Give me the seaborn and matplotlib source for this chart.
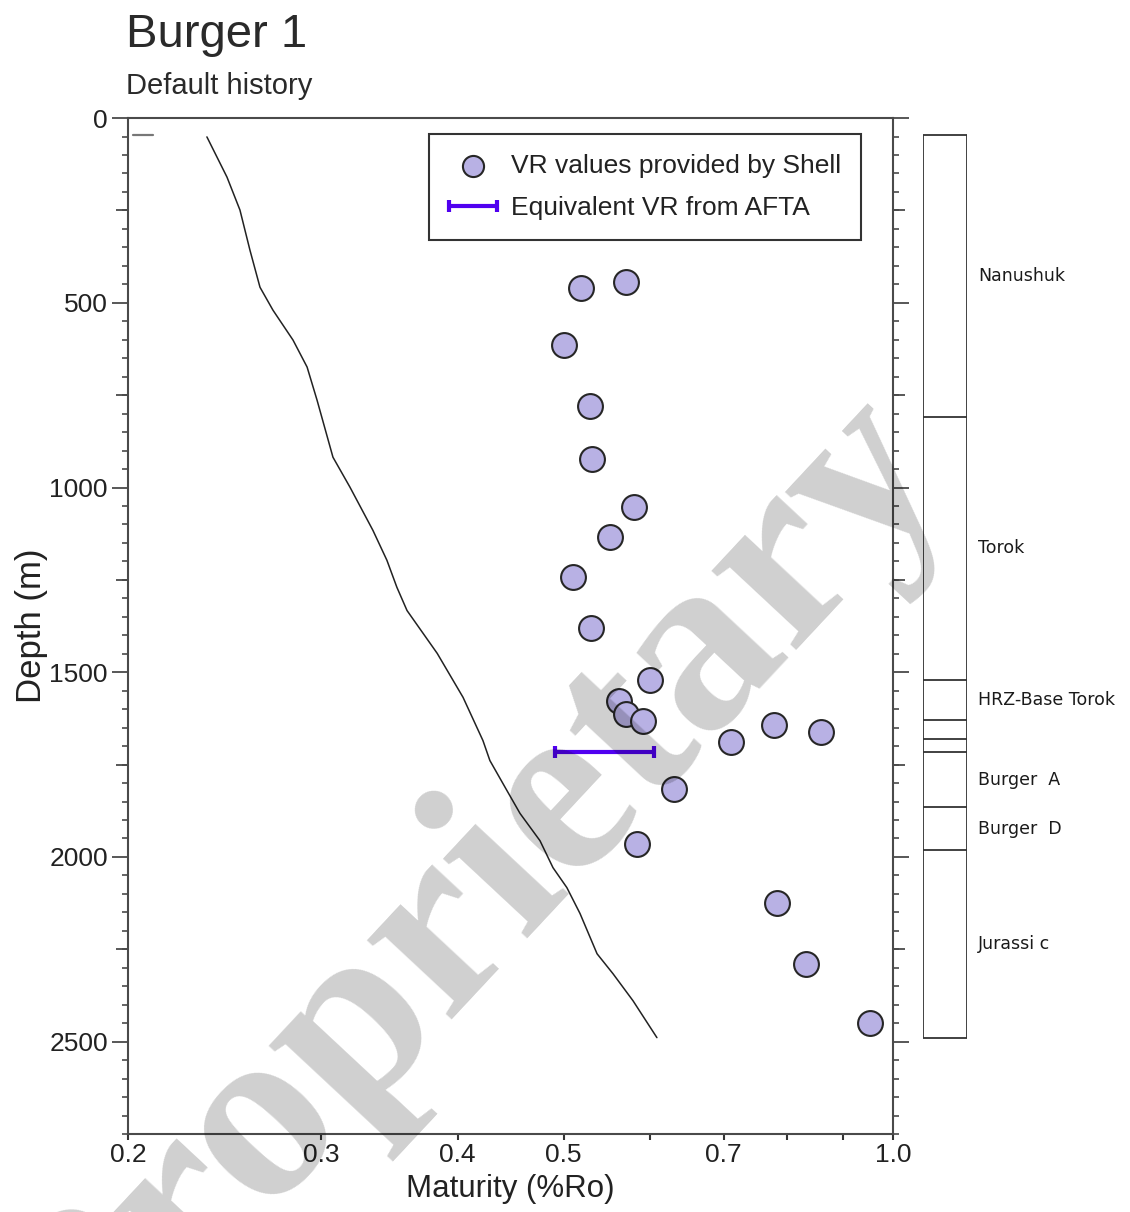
import numpy as np
import matplotlib
matplotlib.use("Agg")
import matplotlib.pyplot as plt
import seaborn as sns
from matplotlib.ticker import FixedLocator, MultipleLocator, NullLocator
from matplotlib.container import ErrorbarContainer
from matplotlib.legend_handler import HandlerErrorbar


# ======================
# Data
# ======================

# modelled maturity profile
model_ro = [0.2361, 0.2463, 0.2531, 0.2585, 0.2640, 0.2713, 0.2830, 0.2915,
            0.2977, 0.3078, 0.3190, 0.3348, 0.3448, 0.3521, 0.3597, 0.3833,
            0.4047, 0.4220, 0.4282, 0.4438, 0.4562, 0.4758, 0.4890, 0.5035,
            0.5176, 0.5365, 0.5548, 0.5786, 0.6085]
model_depth = [51, 160, 249, 358, 458, 520, 601, 674, 764, 918, 999, 1116,
               1197, 1270, 1333, 1449, 1568, 1685, 1739, 1820, 1882, 1956,
               2029, 2083, 2153, 2262, 2316, 2389, 2489]

# measured VR
vr_ro = [0.570, 0.519, 0.500, 0.529, 0.531, 0.580, 0.551, 0.510, 0.530,
         0.600, 0.562, 0.570, 0.591, 0.711, 0.779, 0.859, 0.631, 0.584,
         0.783, 0.833, 0.953]
vr_depth = [444, 460, 615, 780, 924, 1054, 1135, 1243, 1381, 1522, 1579,
            1612, 1633, 1690, 1644, 1663, 1817, 1966, 2124, 2289, 2449]

# AFTA equivalent VR range
afta_depth = 1715
afta_ro_min = 0.491
afta_ro_max = 0.605

# surface marker
surface_ro = [0.202, 0.211]
surface_depth = 46

# stratigraphy
formation_tops = [46, 810, 1520, 1628, 1682, 1715, 1866, 1980]
formation_base = 2489
formation_names = ["Nanushuk", "Torok", "HRZ-Base Torok", "", "",
                   "Burger  A", "Burger  D", "Jurassi c"]

x_ticks = [0.2, 0.3, 0.4, 0.5, 0.6, 0.7, 0.8, 0.9, 1.0]
x_tick_labels = ["0.2", "0.3", "0.4", "0.5", "", "0.7", "", "", "1.0"]


# ======================
# Style
# ======================

sns.set_theme(style="ticks")
plt.rcParams["font.family"] = ["Liberation Sans", "DejaVu Sans"]

spine_col = "#4a4a4a"
text_col = "#222222"

fig = plt.figure(figsize=(11.3, 12.12), dpi=100)

ax = fig.add_axes([0.1133, 0.0643, 0.6770, 0.8383])
ax_col = fig.add_axes([0.8168, 0.0643, 0.0389, 0.8383])


# ======================
# Main panel
# ======================

sns.lineplot(
    x=model_ro,
    y=model_depth,
    sort=False,
    estimator=None,
    color="#222222",
    linewidth=1.1,
    ax=ax
)

ax.plot(surface_ro, [surface_depth, surface_depth],
        color="#777777", linewidth=1.6)

afta_mid = (afta_ro_min + afta_ro_max) / 2
ax.errorbar(
    afta_mid,
    afta_depth,
    xerr=[[afta_mid - afta_ro_min], [afta_ro_max - afta_mid]],
    fmt="none",
    ecolor="#5000f0",
    elinewidth=3,
    capsize=4,
    capthick=3,
    label="Equivalent VR from AFTA",
    zorder=4
)

sns.scatterplot(
    x=vr_ro,
    y=vr_depth,
    s=320,
    color="#b8b1e4",
    edgecolor="#262626",
    linewidth=1.5,
    label="VR values provided by Shell",
    ax=ax,
    zorder=5
)

ax.set_xscale("log")
ax.set_xlim(0.2, 1.0)
ax.set_ylim(2750, 0)

ax.xaxis.set_major_locator(FixedLocator(x_ticks))
ax.set_xticklabels(x_tick_labels)
ax.xaxis.set_minor_locator(NullLocator())

ax.yaxis.set_major_locator(MultipleLocator(500))
ax.yaxis.set_minor_locator(MultipleLocator(50))

for side in ["left", "right", "top", "bottom"]:
    ax.spines[side].set_visible(True)
    ax.spines[side].set_color(spine_col)
    ax.spines[side].set_linewidth(1.5)

ax.tick_params(axis="y", which="major", left=True, right=True,
               length=11.5, width=1.3, color=spine_col,
               labelsize=19, labelcolor=text_col, pad=3)
ax.tick_params(axis="y", which="minor", left=True, right=True,
               length=4.3, width=1.2, color=spine_col)
ax.tick_params(axis="x", which="major", bottom=True, top=False,
               length=4.5, width=1.5, color="#333333",
               labelsize=19, labelcolor=text_col, pad=2)

# intermediate 250 m ticks
for loc in ["left", "right"]:
    sec = ax.secondary_yaxis(loc)
    sec.yaxis.set_major_locator(FixedLocator(np.arange(250, 2750, 500)))
    sec.yaxis.set_minor_locator(NullLocator())
    sec.tick_params(length=8.3, width=1.3, color=spine_col,
                    labelleft=False, labelright=False)
    for s in sec.spines.values():
        s.set_visible(False)

ax.set_xlabel("Maturity (%Ro)", fontsize=22.5, color=text_col, labelpad=5)
ax.set_ylabel("Depth (m)", fontsize=25, color=text_col, labelpad=1)

handles, labels = ax.get_legend_handles_labels()
leg = ax.legend(
    handles,
    labels,
    loc="upper center",
    bbox_to_anchor=(0.676, 0.984),
    fontsize=19,
    frameon=True,
    fancybox=False,
    framealpha=1,
    edgecolor="#333333",
    borderpad=0.75,
    handlelength=1.8,
    handletextpad=0.55,
    labelspacing=0.68,
    markerscale=0.85,
    borderaxespad=0,
    handler_map={ErrorbarContainer: HandlerErrorbar(xerr_size=0.9)}
)
leg.get_frame().set_linewidth(1.5)
for t in leg.get_texts():
    t.set_color(text_col)


# ======================
# Stratigraphic column
# ======================

ax_col.set_xlim(0, 1)
ax_col.set_ylim(2750, 0)
ax_col.axis("off")

ax_col.vlines([0, 1], formation_tops[0], formation_base,
              color="#333333", linewidth=1.3)
ax_col.hlines(formation_tops + [formation_base], 0, 1,
              color="#333333", linewidth=1.3)

bases = formation_tops[1:] + [formation_base]
for name, top, base in zip(formation_names, formation_tops, bases):
    if name:
        ax_col.annotate(
            name,
            xy=(1, (top + base) / 2),
            xycoords=("axes fraction", "data"),
            xytext=(8, 0),
            textcoords="offset points",
            va="center",
            ha="left",
            fontsize=12.5,
            family="DejaVu Sans",
            color="#1a1a1a"
        )


# ======================
# Titles and watermark
# ======================

fig.text(0.1115, 0.9612, "Burger 1", fontsize=34, color="#2a2a2a",
         va="baseline", ha="left")
fig.text(0.1115, 0.9224, "Default history", fontsize=21, color="#2a2a2a",
         va="baseline", ha="left")

fig.text(0.4600, 0.2230, "Proprietary", rotation=47, rotation_mode="anchor",
         ha="center", va="baseline", fontsize=182,
         family="Liberation Serif", fontweight="bold",
         color="black", alpha=0.19, zorder=10)

fig.savefig("out.png", dpi=100)
plt.close(fig)
